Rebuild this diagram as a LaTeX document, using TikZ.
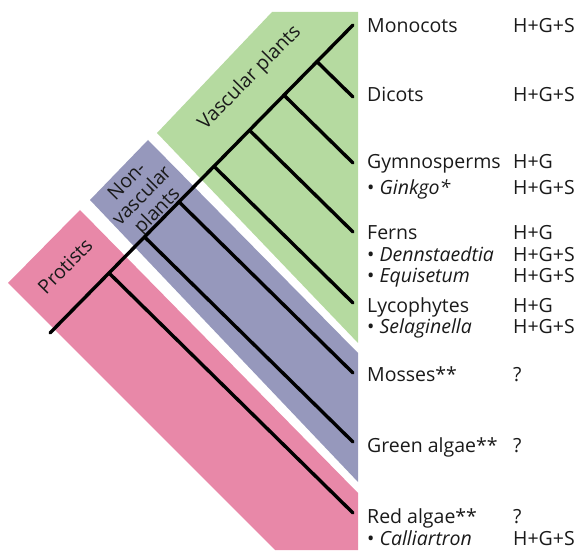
\documentclass[tikz,border=0pt]{standalone}
\usepackage{fontspec}
\setmainfont{Open Sans}
\usetikzlibrary{calc}
\definecolor{vascular}{HTML}{B5DAA0}
\definecolor{nonvasc}{HTML}{9698BC}
\definecolor{protist}{HTML}{E888A8}
\definecolor{ink}{HTML}{1A1A1A}

\begin{document}
\begin{tikzpicture}[
  x=1pt, y=-1pt,
  font=\fontsize{19.5}{21}\selectfont,
  branch/.style={line width=3.4pt, line cap=round, color=black},
  taxon/.style={anchor=base west, inner sep=0pt, color=ink},
  code/.style={anchor=base west, inner sep=0pt, color=ink},
  group/.style={rotate=45.5, align=center, inner sep=0pt, color=ink,
                font=\fontsize{19.5}{21}\selectfont}
]
\useasboundingbox (0,0) rectangle (584,553);
% The three bands
\fill[vascular] (272,12) -- (358,12) -- (358,343) -- (157,133) -- cycle;
\fill[nonvasc]  (148,140) -- (358,353) -- (358,482) -- (90,200) -- cycle;
\fill[protist]  (80,210) -- (358,493) -- (358,550) -- (275,550) -- (8,283) -- cycle;
% Band labels
\node[group] (vasc) at (250,78)  {Vascular plants};
\node[group] (nonv) at (143,197) {Non-\\vascular\\plants};
\node[group] (prot) at (65,266)  {Protists};
% Stem of the tree
\coordinate (root) at (50,333);
\coordinate (top)  at (353,25);
\draw[branch] (root) -- (top);
% Side branches
\foreach \n/\y in {dicots/97, gymno/163, ferns/232, lyco/303,
                   mosses/373, greenalg/442, redalg/513} {
  \coordinate (tip-\n) at (353,\y);
  \draw[branch] ($(root)!(tip-\n)!(top)$) -- (tip-\n);
}
% Taxa and their codes
\foreach \n/\t/\c/\y in {
    mono/Monocots/H+G+S/33,
    dicots/Dicots/H+G+S/102,
    gymno/Gymnosperms/H+G/169,
    ginkgo/{\textbullet\ \textit{Ginkgo*}}/H+G+S/195,
    ferns/Ferns/H+G/240,
    denn/{\textbullet\ \textit{Dennstaedtia}}/H+G+S/262,
    equi/{\textbullet\ \textit{Equisetum}}/H+G+S/283,
    lyco/Lycophytes/H+G/313,
    sela/{\textbullet\ \textit{Selaginella}}/H+G+S/334,
    mosses/Mosses**/?/382,
    greenalg/Green algae**/?/453,
    redalg/Red algae**/?/523,
    calli/{\textbullet\ \textit{Calliartron}}/H+G+S/545} {
  \node[taxon] (name-\n) at (367,\y) {\t};
  \node[code]  (code-\n) at (513,\y) {\c};
}
\end{tikzpicture}
\end{document}
